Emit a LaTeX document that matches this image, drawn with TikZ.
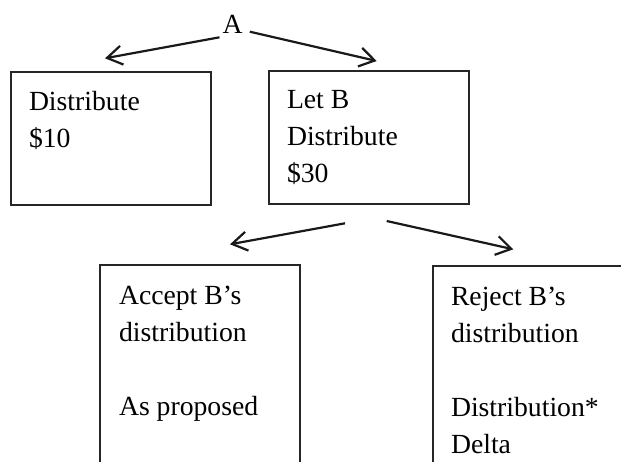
\documentclass[tikz,border=0pt]{standalone}
\usepackage{fontspec}
\setmainfont{Liberation Serif}
\usetikzlibrary{arrows.meta}
\begin{document}
\begin{tikzpicture}[x=1pt,y=-1pt,
  box/.style={draw=black!85, line width=1.8pt, inner sep=0pt, outer sep=0pt, anchor=north west},
  conn/.style={line width=2.2pt, black!90, -{Straight Barb[length=15pt,width=19pt,line width=2.2pt]}},
  lbl/.style={anchor=base west, inner sep=0pt, outer sep=0pt, font=\fontsize{27.7}{37}\selectfont}]
\useasboundingbox (0,0) rectangle (621,461);
\begin{scope}
\clip (0,0) rectangle (621,461);

% root label
\node[lbl, anchor=base] (A) at (232.5,33) {A};

% first level boxes
\node[box, minimum width=200pt, minimum height=133pt] (b1) at (11,72) {};
\node[box, minimum width=200pt, minimum height=133pt] (b2) at (269,71) {};
\node[lbl] (t1) at (29,110) {\parbox[t]{170pt}{Distribute\\\$10}};
\node[lbl] (t2) at (287,108.5) {\parbox[t]{170pt}{Let B\\Distribute\\\$30}};

% second level boxes (run past the lower edge)
\node[box, minimum width=200pt, minimum height=230pt] (b3) at (100,265) {};
\node[box, minimum width=230pt, minimum height=230pt] (b4) at (433,266) {};
\node[lbl] (t3) at (119,304) {\parbox[t]{170pt}{Accept B’s\\distribution\\[37pt]As proposed}};
\node[lbl] (t4) at (451,305) {\parbox[t]{170pt}{Reject B’s\\distribution\\[37pt]Distribution*\\Delta}};

% arrow tips
\coordinate (c1t) at (105,58.3);
\coordinate (c2t) at (376.7,61);
\coordinate (c3t) at (230,244.3);
\coordinate (c4t) at (513.3,249.3);

% connectors
\draw[conn] ([shift={(-3,4.3)}]A.south west) -- (c1t);
\draw[conn] ([shift={(7.3,-1.3)}]A.south east) -- (c2t);
\draw[conn] ([shift={(-24,19.3)}]b2.south) -- (c3t);
\draw[conn] ([shift={(17.7,17)}]b2.south) -- (c4t);
\end{scope}
\end{tikzpicture}
\end{document}
